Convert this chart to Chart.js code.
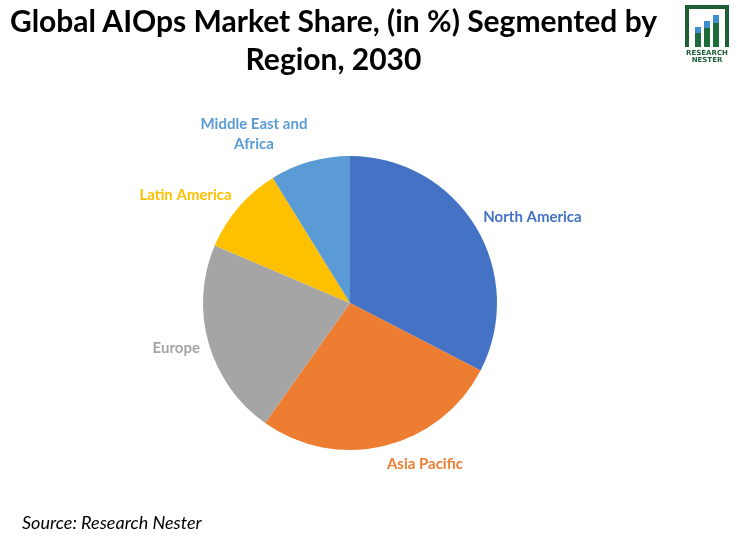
<!DOCTYPE html>
<html>
<head>
<meta charset="utf-8">
<script src="https://cdn.jsdelivr.net/npm/chart.js@4.4.1/dist/chart.umd.min.js"></script>
<style>
  body { margin: 0; background: #fff; }
  #wrap { position: relative; width: 737px; height: 539px; overflow: hidden; }
  #title {
    position: absolute; left: 0; top: 1px; width: 667px; text-align: center;
    font-family: Lato, sans-serif; font-weight: bold; font-size: 30px; line-height: 38px; color: #000;
  }
  #source {
    position: absolute; left: 22px; top: 511px;
    font-family: Lato, sans-serif; font-style: italic; font-size: 18px; color: #000;
  }
  #logo { position: absolute; left: 681px; top: 3px; }
  canvas { position: absolute; left: 0; top: 0; }
</style>
</head>
<body>
<div id="wrap">
  <canvas id="pieChart" width="737" height="539"></canvas>
  <div id="title">Global AIOps Market Share, (in %) Segmented by<br>Region, 2030</div>
  <div id="source">Source: Research Nester</div>
  <svg id="logo" width="52" height="60" viewBox="0 0 52 60">
    <path d="M4 2 H48 V44 H44 V6 H8 V44 H4 Z" fill="#1d5e36"/>
    <rect x="14" y="24" width="6" height="20" fill="#1d6b3a"/>
    <rect x="14" y="24" width="6" height="6" fill="#3d8fd0"/>
    <rect x="23" y="18" width="6" height="26" fill="#1d6b3a"/>
    <rect x="23" y="18" width="6" height="7" fill="#3d8fd0"/>
    <rect x="32" y="12" width="6" height="32" fill="#1d6b3a"/>
    <rect x="32" y="12" width="6" height="8" fill="#3d8fd0"/>
    <text x="26" y="52" text-anchor="middle" font-family="DejaVu Sans" font-weight="bold" font-size="7" fill="#1d5e36">RESEARCH</text>
    <text x="26" y="59" text-anchor="middle" font-family="DejaVu Sans" font-weight="bold" font-size="7" fill="#1d5e36">NESTER</text>
  </svg>
</div>
<script>
const regions = [["North America"], ["Asia Pacific"], ["Europe"], ["Latin America"], ["Middle East and", "Africa"]];
const shares = [32.6, 27.2, 21.6, 9.8, 8.8];
const colors = ["#4472C4", "#ED7D31", "#A5A5A5", "#FFC000", "#5B9BD5"];

// draws the category labels outside each slice, like Excel does
const outsideLabels = {
    id: "outsideLabels",
    afterDatasetsDraw(chart) {
        const ctx = chart.ctx;
        const meta = chart.getDatasetMeta(0);
        const lineH = 20;
        ctx.save();
        ctx.font = "bold 15px Lato, sans-serif";
        ctx.textBaseline = "middle";
        meta.data.forEach((arc, i) => {
            const p = arc.getProps(["x", "y", "startAngle", "endAngle", "outerRadius"], true);
            const mid = (p.startAngle + p.endAngle) / 2;
            const r = p.outerRadius + 9;
            const ax = p.x + Math.cos(mid) * r;
            const ay = p.y + Math.sin(mid) * r;
            const lines = chart.data.labels[i];
            const w = Math.max(...lines.map(l => ctx.measureText(l).width));
            const h = lines.length * lineH;
            const left = Math.cos(mid) >= 0 ? ax : ax - w;
            const cy = ay + Math.sin(mid) * h / 2;
            ctx.fillStyle = colors[i];
            ctx.textAlign = "center";
            lines.forEach((l, k) => {
                ctx.fillText(l, left + w / 2, cy - h / 2 + lineH * (k + 0.5));
            });
        });
        ctx.restore();
    }
};

new Chart(document.getElementById("pieChart"), {
    type: "pie",
    data: {
        labels: regions,
        datasets: [{
            data: shares,
            backgroundColor: colors,
            borderWidth: 0
        }]
    },
    options: {
        responsive: false,
        animation: false,
        layout: {
            padding: { left: 203, right: 240, top: 156, bottom: 89 }
        },
        plugins: {
            legend: { display: false },
            tooltip: { enabled: false }
        }
    },
    plugins: [outsideLabels]
});
</script>
</body>
</html>
